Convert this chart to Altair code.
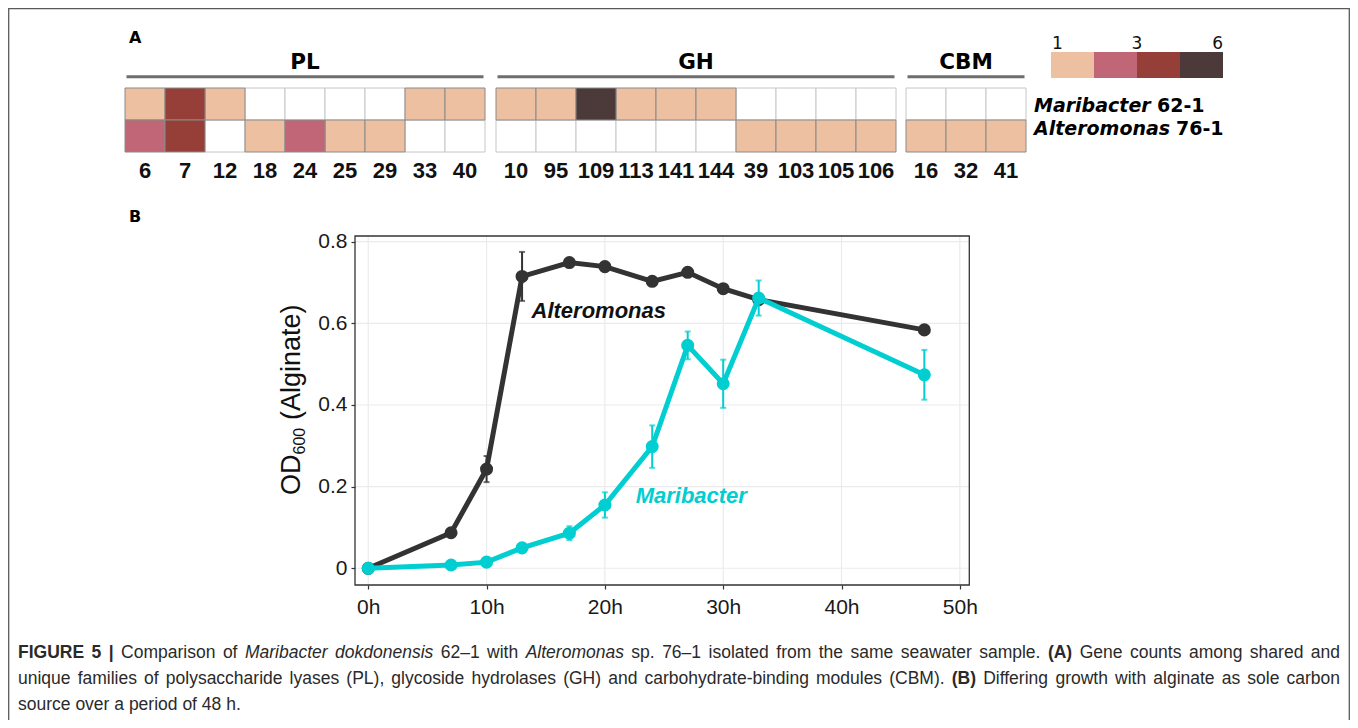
import altair as alt
import pandas as pd

# ---------------- data ----------------
ROWS = ["Maribacter 62-1", "Alteromonas 76-1"]
GENUS = ["Maribacter", "Alteromonas"]
STRAIN = ["62-1", "76-1"]

PL_FAM = ["6", "7", "12", "18", "24", "25", "29", "33", "40"]
PL_MARI = [1, 3, 1, 0, 0, 0, 0, 1, 1]
PL_ALTE = [2, 3, 0, 1, 2, 1, 1, 0, 0]

GH_FAM = ["10", "95", "109", "113", "141", "144", "39", "103", "105", "106"]
GH_MARI = [1, 1, 6, 1, 1, 1, 0, 0, 0, 0]
GH_ALTE = [0, 0, 0, 0, 0, 0, 1, 1, 1, 1]

CBM_FAM = ["16", "32", "41"]
CBM_MARI = [0, 0, 0]
CBM_ALTE = [1, 1, 1]

GROUPS = ["PL", "GH", "CBM"]
LEGEND_LEVELS = [1, 2, 3, 6]
LEGEND_TEXT = ["1", "3", "6"]

HOURS = [0, 7, 10, 13, 17, 20, 24, 27, 30, 33, 47]
OD_ALTE = [0.0, 0.087, 0.243, 0.715, 0.749, 0.739, 0.703, 0.725, 0.685, 0.658, 0.584]
ERR_ALTE = [0.0, 0.004, 0.032, 0.060, 0.008, 0.008, 0.008, 0.008, 0.008, 0.008, 0.008]
OD_MARI = [0.0, 0.008, 0.015, 0.050, 0.086, 0.155, 0.298, 0.546, 0.452, 0.662, 0.474]
ERR_MARI = [0.0, 0.004, 0.005, 0.008, 0.017, 0.031, 0.052, 0.034, 0.059, 0.043, 0.061]

X_TICKS = [0, 10, 20, 30, 40, 50]
Y_TICKS = [0, 0.2, 0.4, 0.6, 0.8]

CAPTION = [
    [("FIGURE 5 |", "b"), ("Comparison of", "r"), ("Maribacter dokdonensis", "i"),
     ("62\u20131 with", "r"), ("Alteromonas", "i"),
     ("sp. 76\u20131 isolated from the same seawater sample.", "r"), ("(A)", "b"),
     ("Gene counts among shared and", "r")],
    [("unique families of polysaccharide lyases (PL), glycoside hydrolases (GH) and "
      "carbohydrate-binding modules (CBM).", "r"), ("(B)", "b"),
     ("Differing growth with alginate as sole carbon", "r")],
    [("source over a period of 48 h.", "r")],
]

# ---------------- layout / style ----------------
W, H = 1342, 712
SANS = "Liberation Sans"
DEJA = "DejaVu Sans"
DARK = "#333333"
CYAN = "#00CED1"
HEAT_COLORS = ["#ffffff", "#ECC0A1", "#C16676", "#963F38", "#4C393A"]

HEAT_Y = [80, 144]
GROUP_RANGE = {"PL": [117, 477], "GH": [488, 888], "CBM": [898, 1018]}
GROUP_FAMS = {"PL": PL_FAM, "GH": GH_FAM, "CBM": CBM_FAM}
GROUP_VALS = {"PL": (PL_MARI, PL_ALTE), "GH": (GH_MARI, GH_ALTE), "CBM": (CBM_MARI, CBM_ALTE)}
LEG_RANGE = [1043, 1215]

PX = [347, 961.3]
PY = [577, 228]
X_DOM = [-1.12, 50.8]
Y_DOM = [-0.041, 0.814]

color_scale = alt.Scale(type="threshold", domain=[1, 2, 3, 4], range=HEAT_COLORS)
row_scale = alt.Scale(domain=ROWS, range=HEAT_Y, paddingInner=0, paddingOuter=0)
xs_t = alt.Scale(domain=X_DOM, range=PX, nice=False, zero=False)
ys_od = alt.Scale(domain=Y_DOM, range=PY, nice=False, zero=False)

one = pd.DataFrame({"k": [0]})
layers = []

# frame
layers.append(alt.Chart(one).mark_rect(fillOpacity=0, stroke="#5a5a5a", strokeWidth=1.3).encode(
    x=alt.value(0.7), x2=alt.value(W - 0.7), y=alt.value(0.7), y2=alt.value(H + 20)))

# panel letters
for letter, yb in (("A", 35), ("B", 214)):
    layers.append(alt.Chart(pd.DataFrame({"t": [letter]})).mark_text(
        font=DEJA, fontWeight="bold", fontSize=16, align="left", baseline="alphabetic", color="#000"
    ).encode(x=alt.value(121), y=alt.value(yb), text="t:N"))

# ---------------- heatmap ----------------
for g in GROUPS:
    fams = GROUP_FAMS[g]
    mari, alte = GROUP_VALS[g]
    df = pd.DataFrame({
        "family": fams + fams,
        "row": [ROWS[0]] * len(fams) + [ROWS[1]] * len(fams),
        "count": list(mari) + list(alte),
    })
    rng = GROUP_RANGE[g]
    xs = alt.Scale(domain=fams, range=rng, paddingInner=0, paddingOuter=0)
    layers.append(alt.Chart(df).mark_rect(strokeWidth=1).encode(
        x=alt.X("family:N", scale=xs, sort=fams, title=None,
                axis=alt.Axis(orient="bottom", offset=-(H - HEAT_Y[1]), ticks=False, tickSize=0,
                              domain=False, grid=False, labelAngle=0, labelPadding=8,
                              labelFont=SANS, labelFontWeight="bold", labelFontSize=22,
                              labelColor="#111111", labelOverlap=False, labelBound=False)),
        y=alt.Y("row:N", scale=row_scale, axis=None),
        color=alt.Color("count:Q", scale=color_scale, legend=None),
        stroke=alt.condition("datum.count > 0", alt.value("#8a8a8a"), alt.value("#c6c6c6")),
        order=alt.Order("count:Q"),
    ))
    cx = (rng[0] + rng[1]) / 2
    layers.append(alt.Chart(pd.DataFrame({"t": [g]})).mark_text(
        font=DEJA, fontWeight="bold", fontSize=21.5, align="center", baseline="alphabetic", color="#000"
    ).encode(x=alt.value(cx), y=alt.value(61), text="t:N"))
    layers.append(alt.Chart(one).mark_rule(color="#6e6e6e", strokeWidth=3).encode(
        x=alt.value(rng[0] + 1.5), x2=alt.value(rng[1] - 1.5), y=alt.value(68.7)))

# row labels
ROW_DY = [2, -7]
GEN_W = [117, 136]
for i in range(2):
    d = pd.DataFrame({"row": [ROWS[i]], "g": [GENUS[i]], "s": [STRAIN[i]]})
    layers.append(alt.Chart(d).mark_text(
        font=DEJA, fontWeight="bold", fontStyle="italic", fontSize=19, align="left",
        baseline="middle", dy=ROW_DY[i], color="#000"
    ).encode(x=alt.value(1026), y=alt.Y("row:N", scale=row_scale, axis=None), text="g:N"))
    layers.append(alt.Chart(d).mark_text(
        font=DEJA, fontWeight="bold", fontSize=19, align="left",
        baseline="middle", dy=ROW_DY[i], color="#000"
    ).encode(x=alt.value(1026 + GEN_W[i] + 6), y=alt.Y("row:N", scale=row_scale, axis=None), text="s:N"))

# colour legend
lev = [str(v) for v in LEGEND_LEVELS]
leg_scale = alt.Scale(domain=lev, range=LEG_RANGE, paddingInner=0, paddingOuter=0)
layers.append(alt.Chart(pd.DataFrame({"lev": lev, "v": LEGEND_LEVELS})).mark_rect().encode(
    x=alt.X("lev:N", scale=leg_scale, axis=None, sort=lev),
    y=alt.value(44), y2=alt.value(70),
    color=alt.Color("v:Q", scale=color_scale, legend=None)))
step = (LEG_RANGE[1] - LEG_RANGE[0]) / len(lev)
for txt, xpos, al in ((LEGEND_TEXT[0], LEG_RANGE[0] + 1, "left"),
                      (LEGEND_TEXT[1], LEG_RANGE[0] + 2 * step, "center"),
                      (LEGEND_TEXT[2], LEG_RANGE[1], "right")):
    layers.append(alt.Chart(pd.DataFrame({"t": [txt]})).mark_text(
        font=DEJA, fontSize=17, align=al, baseline="alphabetic", color="#111"
    ).encode(x=alt.value(xpos), y=alt.value(40.5), text="t:N"))

# ---------------- growth curves ----------------
layers.append(alt.Chart(pd.DataFrame({"t": X_TICKS})).mark_rule(color="#EBEBEB", strokeWidth=1.2).encode(
    x=alt.X("t:Q", scale=xs_t, title=None,
            axis=alt.Axis(orient="bottom", offset=-(H - PY[0]), values=X_TICKS,
                          labelExpr="datum.value + 'h'", tickSize=4, tickColor=DARK, tickWidth=1.2,
                          domain=False, grid=False, labelFont=SANS, labelFontSize=21,
                          labelColor="#1a1a1a", labelPadding=7, labelOverlap=False, labelBound=False,
                          labelFlush=False)),
    y=alt.value(PY[1]), y2=alt.value(PY[0])))
layers.append(alt.Chart(pd.DataFrame({"t": Y_TICKS})).mark_rule(color="#EBEBEB", strokeWidth=1.2).encode(
    y=alt.Y("t:Q", scale=ys_od, title=None,
            axis=alt.Axis(orient="left", offset=-PX[0], values=Y_TICKS,
                          labelExpr="datum.value == 0 ? '0' : format(datum.value, '.1f')",
                          tickSize=4, tickColor=DARK, tickWidth=1.2, domain=False, grid=False,
                          labelFont=SANS, labelFontSize=21, labelColor="#1a1a1a", labelPadding=4,
                          labelOverlap=False, labelBound=False, labelFlush=False)),
    x=alt.value(PX[0]), x2=alt.value(PX[1])))
layers.append(alt.Chart(one).mark_rect(fillOpacity=0, stroke=DARK, strokeWidth=1.3).encode(
    x=alt.value(PX[0]), x2=alt.value(PX[1]), y=alt.value(PY[1]), y2=alt.value(PY[0])))

# y-axis title with subscript (rotated)
for txt, size, xb, yb in (("OD", 27, 292, 487), ("600", 16, 297, 446.5), ("(Alginate)", 27, 292, 412)):
    layers.append(alt.Chart(pd.DataFrame({"t": [txt]})).mark_text(
        font=SANS, fontSize=size, angle=270, align="left", baseline="alphabetic", color="#111"
    ).encode(x=alt.value(xb), y=alt.value(yb), text="t:N"))

growth = pd.DataFrame({
    "h": HOURS * 2,
    "od": OD_ALTE + OD_MARI,
    "err": ERR_ALTE + ERR_MARI,
    "sp": ["Alteromonas"] * len(HOURS) + ["Maribacter"] * len(HOURS),
})
growth["lo"] = growth["od"] - growth["err"]
growth["hi"] = growth["od"] + growth["err"]

for sp, col in (("Alteromonas", DARK), ("Maribacter", CYAN)):
    base = alt.Chart(growth).transform_filter(alt.datum.sp == sp)
    ex = alt.X("h:Q", scale=xs_t, axis=None)
    layers.append(base.mark_line(color=col, strokeWidth=5).encode(
        x=ex, y=alt.Y("od:Q", scale=ys_od, axis=None)))
    eb = base.transform_filter(alt.datum.err > 0)
    layers.append(eb.mark_rule(color=col, strokeWidth=2).encode(
        x=ex, y=alt.Y("lo:Q", scale=ys_od, axis=None), y2="hi:Q"))
    for fld in ("lo", "hi"):
        layers.append(eb.mark_tick(color=col, orient="horizontal", size=6, thickness=2).encode(
            x=ex, y=alt.Y(f"{fld}:Q", scale=ys_od, axis=None)))
    layers.append(base.mark_circle(color=col, size=170, opacity=1).encode(
        x=ex, y=alt.Y("od:Q", scale=ys_od, axis=None)))

ANN = pd.DataFrame({"t": ["Alteromonas", "Maribacter"], "x": [13.8, 22.6], "y": [0.631, 0.177]})
for i, col in enumerate(("#111111", CYAN)):
    layers.append(alt.Chart(ANN.iloc[[i]]).mark_text(
        font=SANS, fontSize=22, fontWeight="bold", fontStyle="italic", align="left",
        baseline="middle", color=col
    ).encode(x=alt.X("x:Q", scale=xs_t, axis=None), y=alt.Y("y:Q", scale=ys_od, axis=None), text="t:N"))

# ---------------- caption (justified, word by word) ----------------
REG = {' ': 278, '!': 278, '"': 355, '#': 556, '$': 556, '%': 889, '&': 667, "'": 191, '(': 333, ')': 333,
       '*': 389, '+': 584, ',': 278, '-': 333, '.': 278, '/': 278, ':': 278, ';': 278, '?': 556, '|': 260,
       'A': 667, 'B': 667, 'C': 722, 'D': 722, 'E': 667, 'F': 611, 'G': 778, 'H': 722, 'I': 278, 'J': 500,
       'K': 667, 'L': 556, 'M': 833, 'N': 722, 'O': 778, 'P': 667, 'Q': 778, 'R': 722, 'S': 667, 'T': 611,
       'U': 722, 'V': 667, 'W': 944, 'X': 667, 'Y': 667, 'Z': 611,
       'a': 556, 'b': 556, 'c': 500, 'd': 556, 'e': 556, 'f': 278, 'g': 556, 'h': 556, 'i': 222, 'j': 222,
       'k': 500, 'l': 222, 'm': 833, 'n': 556, 'o': 556, 'p': 556, 'q': 556, 'r': 333, 's': 500, 't': 278,
       'u': 556, 'v': 500, 'w': 722, 'x': 500, 'y': 500, 'z': 500, '\u2013': 556}
BOLD = dict(REG)
BOLD.update({'A': 722, 'B': 722, 'R': 722, 'U': 722, 'L': 611, '|': 280})

CAP_SIZE = 17.5
CAP_LEFT, CAP_RIGHT = 10, 1332
CAP_BASE = [650, 676, 702]


def width(word, style):
    tab = BOLD if style == "b" else REG
    return sum(tab.get(c, 556) for c in word) * CAP_SIZE / 1000


rows = []
for li, line in enumerate(CAPTION):
    words = [(w, st) for seg, st in line for w in seg.split(" ")]
    nat = sum(width(w, st) for w, st in words)
    sp = REG[' '] * CAP_SIZE / 1000
    if li < len(CAPTION) - 1:
        sp = (CAP_RIGHT - CAP_LEFT - nat) / (len(words) - 1)
    x = CAP_LEFT
    for w, st in words:
        rows.append({"w": w, "st": st, "x": x, "y": CAP_BASE[li]})
        x += width(w, st) + sp
cap_df = pd.DataFrame(rows)
for st, fw, fs in (("r", "normal", "normal"), ("b", "bold", "normal"), ("i", "normal", "italic")):
    layers.append(alt.Chart(cap_df).transform_filter(alt.datum.st == st).mark_text(
        font=SANS, fontSize=CAP_SIZE, fontWeight=fw, fontStyle=fs, align="left",
        baseline="alphabetic", color="#2a2a2a"
    ).encode(x=alt.X("x:Q", scale=None), y=alt.Y("y:Q", scale=None), text="w:N"))

chart = alt.layer(*layers).resolve_scale(
    x="independent", y="independent", color="independent"
).properties(
    width=W, height=H, autosize=alt.AutoSizeParams(type="none"), padding=0
).configure_view(strokeWidth=0)

chart.save("out.html", embed_options={"renderer": "svg", "actions": False})
